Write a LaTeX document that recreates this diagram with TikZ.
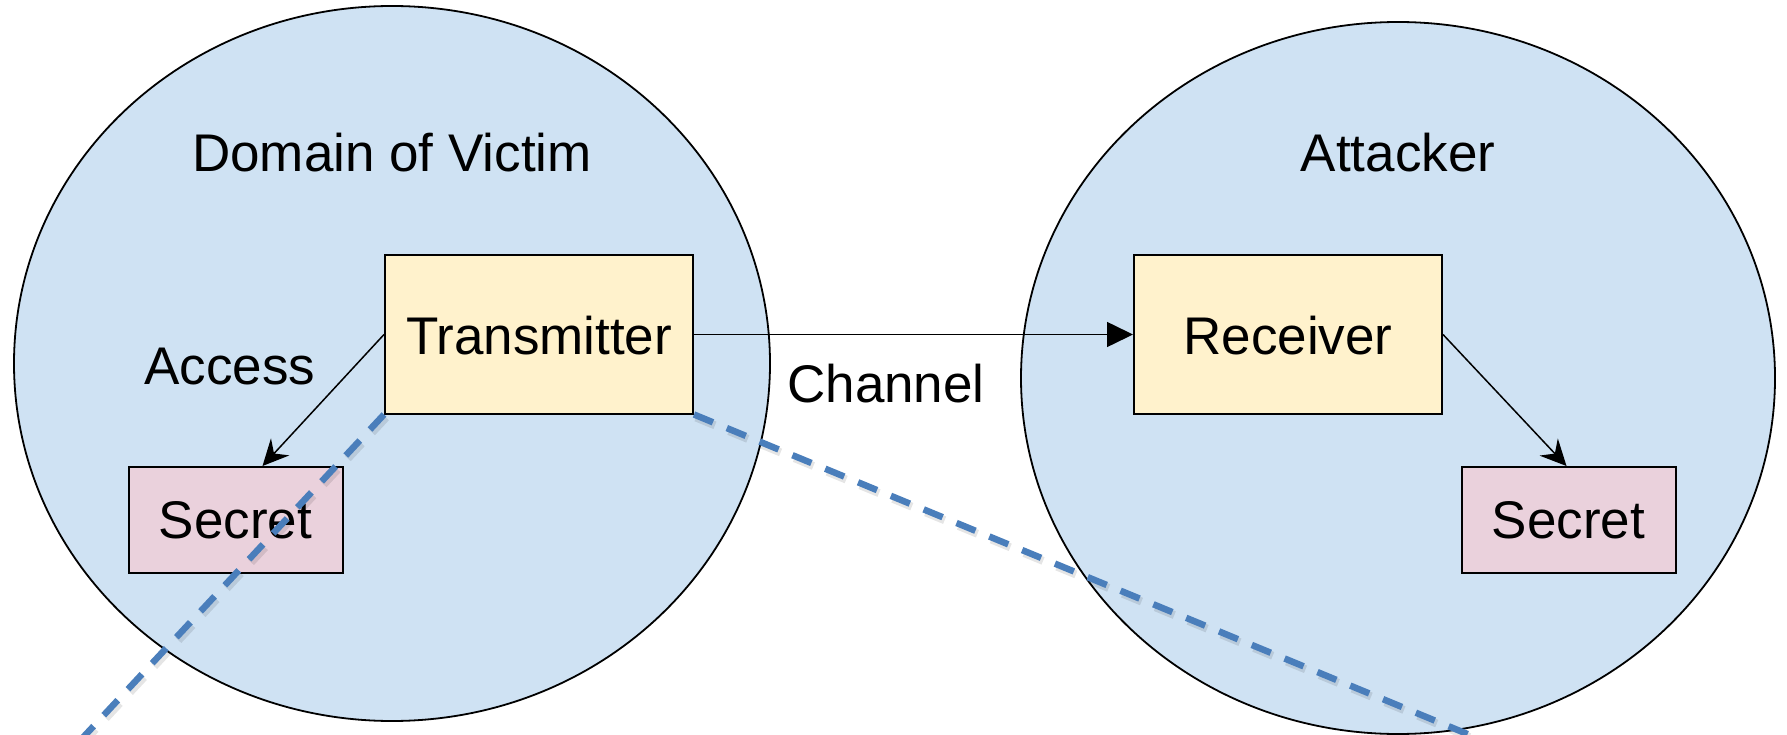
\documentclass[tikz,border=0pt]{standalone}
\usepackage{fontspec}
\setmainfont{Liberation Sans}
\usetikzlibrary{arrows.meta,shapes.geometric}
\definecolor{zoneblue}{RGB}{207,226,243}
\definecolor{boxyellow}{RGB}{255,242,204}
\definecolor{boxpink}{RGB}{234,209,220}
\definecolor{pathblue}{RGB}{74,126,187}
\begin{document}
\begin{tikzpicture}[x=1pt,y=-1pt,
  zone/.style={ellipse, draw=black, line width=1.8pt, fill=zoneblue, inner sep=0pt},
  txt/.style={anchor=base, inner sep=0pt, font=\fontsize{53pt}{60pt}\selectfont},
  unit/.style={txt, draw=black, line width=2pt, fill=boxyellow,
    minimum width=308pt, text height=98.5pt, text depth=59.5pt},
  secretbox/.style={txt, draw=black, line width=2pt, fill=boxpink,
    minimum width=214pt, text height=71pt, text depth=35pt},
  flow/.style={line width=1.5pt, draw=black},
  leak/.style={line width=6.5pt, draw=pathblue, dash pattern=on 20.5pt off 15pt},
  leakshade/.style={line width=8pt, draw=black, opacity=0.10, dash pattern=on 20.5pt off 15pt}]
\useasboundingbox (0,0) rectangle (1787,735);

% the two domains
\node[zone, minimum width=756pt, minimum height=715pt] (victim) at (392,363.5) {};
\node[zone, minimum width=754pt, minimum height=712pt] (attacker) at (1398,378) {};

% domain titles and edge labels
\node[txt] (victimlbl) at (392,172) {Domain of Victim};
\node[txt] (attackerlbl) at (1398,172) {Attacker};
\node[txt] (accesslbl) at (230,384) {Access};
\node[txt] (channellbl) at (886,402) {Channel};

% components
\node[unit] (tx) at (539,354) {Transmitter};
\node[unit] (rx) at (1288,354) {Receiver};
\node[secretbox] (sl) at (235.5,538) {Secret};
\node[secretbox] (sr) at (1568.5,538) {Secret};

% connectors
\draw[flow, -{Triangle[length=26pt,width=25pt]}] (tx.east) -- (rx.west);
\draw[flow, -{Stealth[length=26pt,width=25pt,inset=9pt]}] (tx.west) -- ([xshift=27pt]sl.north);
\draw[flow, -{Stealth[length=26pt,width=25pt,inset=9pt]}] (rx.east) -- ([xshift=-2pt]sr.north);

% dashed boundary lines leaving the transmitter
\coordinate (leakA) at (76,745);
\coordinate (leakB) at (1494,745);
\draw[leakshade] ([shift={(2,3)}]tx.south west) -- ([shift={(2,3)}]leakA);
\draw[leakshade] ([shift={(2,3)}]tx.south east) -- ([shift={(2,3)}]leakB);
\draw[leak] (tx.south west) -- (leakA);
\draw[leak] (tx.south east) -- (leakB);
\end{tikzpicture}
\end{document}
